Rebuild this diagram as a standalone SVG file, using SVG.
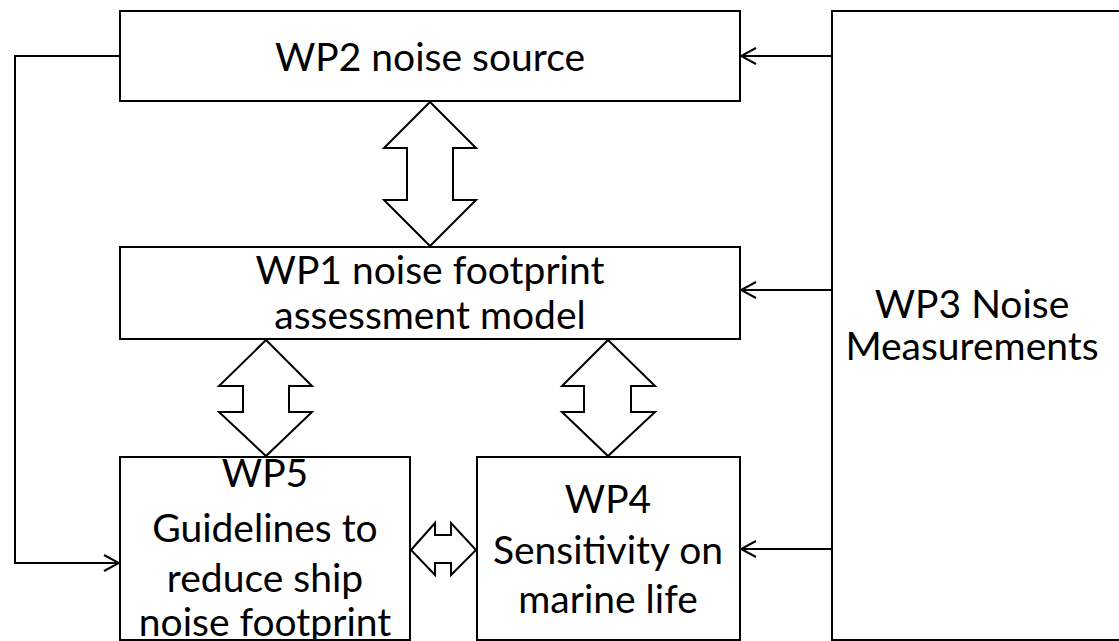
<svg xmlns="http://www.w3.org/2000/svg" width="1119" height="641" viewBox="0 0 1119 641">
<defs>
<style>
.box{fill:#fff;stroke:#000;stroke-width:2}
.blk{fill:#fff;stroke:#000;stroke-width:2;stroke-linejoin:miter}
.ln{fill:none;stroke:#000;stroke-width:2}
text{font-family:"Lato","Open Sans","Liberation Sans",sans-serif;font-size:39px;fill:#000;text-anchor:middle}
</style>
<marker id="ah" viewBox="0 0 20 20" refX="19" refY="10" markerWidth="20" markerHeight="20" markerUnits="userSpaceOnUse" orient="auto">
<path d="M4,2 L19,10 L4,18" fill="none" stroke="#000" stroke-width="2"/>
</marker>
</defs>
<rect width="1119" height="641" fill="#fff"/>
<g id="WP3">
<rect class="box" x="832" y="11" width="300" height="629"/>
<text x="972" y="318">WP3 Noise</text>
<text x="972" y="360">Measurements</text>
</g>
<g id="WP2">
<rect class="box" x="120" y="11" width="620" height="90"/>
<text x="430" y="71">WP2 noise source</text>
</g>
<g id="WP1">
<rect class="box" x="120" y="247" width="620" height="92"/>
<text x="430" y="284">WP1 noise footprint</text>
<text x="430" y="329">assessment model</text>
</g>
<g id="WP5">
<rect class="box" x="120" y="457" width="290" height="183"/>
<text x="265" y="487">WP5</text>
<text x="265" y="542">Guidelines to</text>
<text x="265" y="592">reduce ship</text>
<text x="265" y="636">noise footprint</text>
</g>
<g id="WP4">
<rect class="box" x="477" y="457" width="263" height="183"/>
<text x="608" y="513">WP4</text>
<text x="608" y="564">Sensitivity on</text>
<text x="608" y="613">marine life</text>
</g>
<g id="connectors">
<path class="blk" d="M430,102 L476,148 L453,148 L453,200 L476,200 L430,246 L384,200 L407,200 L407,148 L384,148 Z"/>
<path class="blk" d="M266,340 L312,386 L289,386 L289,412 L312,412 L266,456 L219,412 L243,412 L243,386 L219,386 Z"/>
<path class="blk" d="M608,340 L655,386 L631,386 L631,412 L655,412 L608,456 L562,412 L584,412 L584,386 L562,386 Z"/>
<path class="blk" d="M411,550 L435,523 L435,535 L451,535 L451,523 L476,550 L451,575 L451,563 L435,563 L435,575 Z"/>
<path class="ln" d="M832,56 L741,56" marker-end="url(#ah)"/>
<path class="ln" d="M832,290 L741,290" marker-end="url(#ah)"/>
<path class="ln" d="M832,549 L741,549" marker-end="url(#ah)"/>
<path class="ln" d="M120,56 L15,56 L15,563 L119,563" marker-end="url(#ah)"/>
</g>
</svg>
